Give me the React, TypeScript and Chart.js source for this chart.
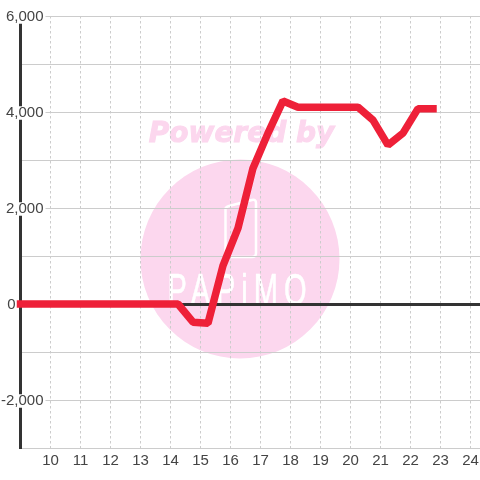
import React, { useEffect, useRef } from "react";
import { Chart, registerables } from "chart.js";

Chart.register(...registerables);

const hours = [9, 14.25, 14.75, 15.25, 15.75, 16.25, 16.75, 17.25, 17.75, 18.25, 18.75, 19.25, 19.75, 20.25, 20.75, 21.25, 21.75, 22.25, 22.75];
const profit = [0, 0, -380, -400, 800, 1580, 2830, 3560, 4230, 4100, 4100, 4100, 4100, 4100, 3830, 3310, 3560, 4070, 4070];
const watermarkTop = "Powered by";
const watermarkBrand = "PAPiMO";

const sans = "'Liberation Sans', Arial, sans-serif";

const watermark = {
  id: "watermark",
  beforeDraw(chart: any) {
    const c = chart.ctx;
    c.save();
    c.fillStyle = "#fcd7ee";
    c.beginPath();
    c.arc(240, 259, 99.5, 0, Math.PI * 2);
    c.fill();
    c.font = `italic bold 28px 'DejaVu Sans', sans-serif`;
    c.textAlign = "center";
    c.textBaseline = "middle";
    c.strokeStyle = "#fcd7ee";
    c.lineWidth = 1;
    c.fillText(watermarkTop, 241.5, 135);
    c.strokeText(watermarkTop, 241.5, 135);
    c.strokeStyle = "#ffffff";
    c.lineWidth = 2.5;
    c.lineJoin = "round";
    c.beginPath();
    c.moveTo(225.5, 209);
    c.lineTo(225.5, 253);
    c.quadraticCurveTo(225.5, 257, 229.5, 257);
    c.lineTo(252, 257);
    c.quadraticCurveTo(256, 257, 256, 253);
    c.lineTo(256, 203);
    c.quadraticCurveTo(256, 199, 252, 200);
    c.lineTo(229, 206);
    c.quadraticCurveTo(225.5, 207, 225.5, 209);
    c.stroke();
    c.fillStyle = "#ffffff";
    c.strokeStyle = "#ffffff";
    c.lineWidth = 0.6;
    c.translate(240, 305);
    c.scale(0.66, 1);
    c.font = `44px ${sans}`;
    (c as any).letterSpacing = "9px";
    c.textBaseline = "alphabetic";
    c.fillText(watermarkBrand, 0, 0);
    c.strokeText(watermarkBrand, 0, 0);
    c.restore();
  },
};

export default function App() {
  const ref = useRef<HTMLCanvasElement>(null);
  useEffect(() => {
    document.body.style.margin = "0";
    const chart = new Chart(ref.current!, {
      type: "line",
      data: {
        datasets: [
          {
            data: hours.map((h, i) => ({ x: h, y: profit[i] })),
            borderColor: "#ee2038",
            borderWidth: 7.5,
            pointRadius: 0,
            tension: 0,
            borderCapStyle: "square",
            borderJoinStyle: "bevel",
            clip: 5,
          },
        ],
      },
      options: {
        responsive: false,
        animation: false,
        layout: { padding: { left: 20.5, top: 16, right: 0, bottom: 0 } },
        plugins: { legend: { display: false }, tooltip: { enabled: false } },
        scales: {
          x: {
            type: "linear",
            min: 9,
            max: 24.317,
            afterBuildTicks(scale: any) {
              scale.ticks = [];
              for (let v = 10; v <= 24; v++) scale.ticks.push({ value: v });
            },
            afterFit(scale: any) {
              scale.height = 32;
              scale.paddingLeft = 0;
              scale.paddingRight = 0;
            },
            grid: { color: "#cccccc", lineWidth: 1, drawTicks: false },
            border: { display: false, dash: [2.5, 2.5] },
            ticks: {
              color: "#444444",
              font: { family: sans, size: 15 },
              padding: 4,
              maxRotation: 0,
              autoSkip: false,
              callback: (v: any) => String(v),
            },
          },
          y: {
            type: "linear",
            min: -3000,
            max: 6000,
            afterFit(scale: any) {
              scale.width = 0;
              scale.paddingTop = 0;
              scale.paddingBottom = 0;
              scale._computeLabelArea = () => undefined;
            },
            grid: {
              color: (ctx: any) => (ctx.tick && ctx.tick.value === 0 ? "#333333" : "#cccccc"),
              lineWidth: (ctx: any) => (ctx.tick && ctx.tick.value === 0 ? 3 : 1),
              drawTicks: false,
            },
            border: { display: true, color: "#333333", width: 3 },
            ticks: {
              stepSize: 1000,
              z: 1,
              padding: -23,
              labelOffset: 1,
              autoSkip: false,
              color: "#444444",
              font: { family: sans, size: 15, lineHeight: 0.9 },
              showLabelBackdrop: (ctx: any) =>
                !!ctx.tick && ctx.tick.value !== 0 && ctx.tick.value % 2000 === 0,
              backdropColor: "#ffffff",
              backdropPadding: { left: 2, right: 2, top: 0, bottom: 0 },
              callback: (v: any) => {
                if (v === 0) return "0      \u2009";
                return v % 2000 === 0 ? Number(v).toLocaleString("en-US") : "";
              },
            } as any,
          },
        },
      },
      plugins: [watermark],
    } as any);
    return () => chart.destroy();
  }, []);
  return <canvas ref={ref} width={480} height={480} style={{ display: "block" }} />;
}
